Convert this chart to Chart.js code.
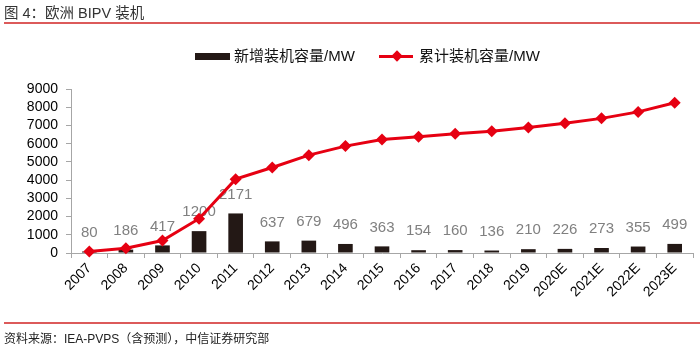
<!DOCTYPE html>
<html>
<head>
<meta charset="utf-8">
<script src="https://cdn.jsdelivr.net/npm/chart.js@4.4.1/dist/chart.umd.min.js"></script>
<style>
  html, body { margin: 0; padding: 0; background: #fff; }
  #wrap { position: relative; width: 700px; height: 351px; overflow: hidden;
          font-family: "Liberation Sans", "Noto Sans CJK SC", sans-serif; }
  #chart { position: absolute; left: 0; top: 0; }
  .title { position: absolute; left: 4px; top: 1px; font-size: 14.5px; color: #333;
           font-family: "Liberation Sans", "Noto Sans CJK SC", sans-serif; }
  .rule { position: absolute; left: 4px; right: 0; height: 2px; background: #dc5a5a; }
  .source { position: absolute; left: 4px; top: 329px; font-size: 12px; color: #222;
            font-family: "Liberation Sans", "Noto Sans CJK SC", sans-serif; }
  .legend { position: absolute; top: 47px; font-size: 15px; color: #111; line-height: 18px;
            font-family: "Liberation Sans", "Noto Sans CJK SC", sans-serif; }
  .swatch-bar { position: absolute; left: 195px; top: 53px; width: 35px; height: 7px; background: #231815; }
  .swatch-line { position: absolute; left: 379px; top: 55px; width: 34px; height: 3px; background: #e60012; }
  .swatch-dot { position: absolute; left: 393px; top: 52px; width: 8px; height: 8px; background: #e60012;
                transform: rotate(45deg); }
</style>
</head>
<body>
<div id="wrap">
  <canvas id="chart" width="700" height="351"></canvas>
  <div class="title">图 4：欧洲 BIPV 装机</div>
  <div class="rule" style="top:22px"></div>
  <div class="swatch-bar"></div>
  <div class="legend" style="left:234px">新增装机容量/MW</div>
  <div class="swatch-line"></div>
  <div class="swatch-dot"></div>
  <div class="legend" style="left:419px">累计装机容量/MW</div>
  <div class="rule" style="top:322px"></div>
  <div class="source">资料来源：IEA-PVPS（含预测），中信证券研究部</div>
</div>
<script>
// Daten
const years = ['2007', '2008', '2009', '2010', '2011', '2012', '2013', '2014', '2015',
    '2016', '2017', '2018', '2019', '2020E', '2021E', '2022E', '2023E'];
const newCapacity = [80, 186, 417, 1200, 2171, 637, 679, 496, 363, 154, 160, 136, 210, 226, 273, 355, 499];
const totalCapacity = [80, 266, 683, 1883, 4054, 4691, 5370, 5866, 6229, 6383, 6543, 6679, 6889, 7115, 7388, 7743, 8242];
const yMax = 9000;
const yStep = 1000;

// Werte über den Balken
const barLabels = {
    id: 'barLabels',
    afterDatasetDraw(chart, args) {
        if (args.index !== 0) return;
        const ctx = chart.ctx;
        const meta = chart.getDatasetMeta(0);
        ctx.save();
        ctx.font = '15px "Liberation Sans", sans-serif';
        ctx.fillStyle = '#808080';
        ctx.textAlign = 'center';
        ctx.textBaseline = 'middle';
        meta.data.forEach((bar, i) => {
            ctx.fillText(String(newCapacity[i]), bar.x, bar.y - 19);
        });
        ctx.restore();
    }
};

const axisColor = '#a6a6a6';
const ctx = document.getElementById('chart').getContext('2d');
new Chart(ctx, {
    data: {
        labels: years,
        datasets: [
            {
                type: 'bar',
                label: '新增装机容量/MW',
                data: newCapacity,
                backgroundColor: '#231815',
                barPercentage: 0.4,
                categoryPercentage: 1,
                order: 1
            },
            {
                type: 'line',
                label: '累计装机容量/MW',
                data: totalCapacity,
                borderColor: '#e60012',
                backgroundColor: '#e60012',
                borderWidth: 3,
                pointStyle: 'rectRot',
                pointRadius: 6,
                pointBorderWidth: 0,
                tension: 0,
                clip: false,
                order: 0
            }
        ]
    },
    options: {
        responsive: false,
        animation: false,
        layout: { padding: { left: 0, right: 7, top: 89, bottom: 0 } },
        plugins: { legend: { display: false }, tooltip: { enabled: false } },
        scales: {
            x: {
                offset: true,
                grid: { display: true, drawOnChartArea: false, drawTicks: true, tickLength: 5,
                        color: axisColor, offset: true },
                border: { color: axisColor, width: 1 },
                ticks: { autoSkip: false, maxRotation: 45, minRotation: 45, padding: 2,
                         color: '#000', font: { family: '"Liberation Sans", sans-serif', size: 14 } },
                afterFit(scale) { scale.height = 98; }
            },
            y: {
                min: 0,
                max: yMax,
                grid: { display: true, drawOnChartArea: false, drawTicks: true, tickLength: 5,
                        color: axisColor },
                border: { color: axisColor, width: 1 },
                ticks: { stepSize: yStep, autoSkip: false, padding: 8, color: '#000',
                         callback: v => String(v),
                         font: { family: '"Liberation Sans", sans-serif', size: 14 } },
                afterFit(scale) { scale.width = 71; }
            }
        }
    },
    plugins: [barLabels]
});
</script>
</body>
</html>
